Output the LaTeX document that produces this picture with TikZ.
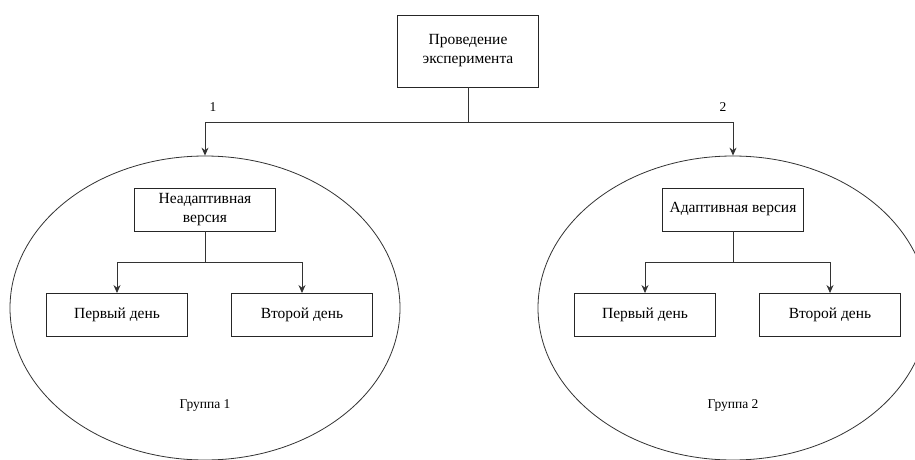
\documentclass[tikz,border=0pt]{standalone}
\usepackage{fontspec}
\setmainfont{Liberation Serif}
\usetikzlibrary{arrows.meta,shapes.geometric}
\begin{document}
\begin{tikzpicture}[x=1pt,y=1pt,
  box/.style={draw=black!85,line width=0.9pt,fill=white,minimum width=141pt,minimum height=43pt,align=center,font=\fontsize{15.5}{19}\selectfont,inner sep=2pt},
  grp/.style={draw=black!80,line width=0.8pt,ellipse,minimum width=390pt,minimum height=304pt,inner sep=0pt},
  link/.style={draw=black!80,line width=0.9pt},
  arrow/.style={link,-{Stealth[length=8pt,width=7pt]}},
  tag/.style={font=\fontsize{13.5}{16}\selectfont},
  gtag/.style={font=\fontsize{13.5}{16}\selectfont}]
\useasboundingbox (0,0) rectangle (915,-460);
\clip (0,0) rectangle (915,-460);
\fill[white] (0,0) rectangle (915,-460);

% the two groups
\node[grp] (g1) at (205,-308) {};
\node[grp] (g2) at (733,-308) {};

% root
\node[box,minimum height=72pt] (exp) at (468,-51) {Проведение\\эксперимента};

% branch from the root to both groups
\coordinate (fork) at (468,-122);
\draw[link] (exp.south) -- (fork);
\draw[arrow] (fork) -| (g1.north);
\draw[arrow] (fork) -| (g2.north);
\node[tag] (n1) at (213,-107) {1};
\node[tag] (n2) at (723,-107) {2};

% group 1
\node[box] (na) at (205,-209.5) {Неадаптивная\\версия};
\node[box] (d11) at (117,-315) {Первый день};
\node[box] (d12) at (302,-315) {Второй день};
\coordinate (f1) at (205,-262);
\draw[link] (na.south) -- (f1);
\draw[arrow] (f1) -| (d11.north);
\draw[arrow] (f1) -| (d12.north);
\node[gtag] (t1) at (205,-405) {Группа 1};

% group 2
\node[box] (ad) at (733,-209.5) {Адаптивная версия};
\node[box] (d21) at (645,-315) {Первый день};
\node[box] (d22) at (830,-315) {Второй день};
\coordinate (f2) at (733,-262);
\draw[link] (ad.south) -- (f2);
\draw[arrow] (f2) -| (d21.north);
\draw[arrow] (f2) -| (d22.north);
\node[gtag] (t2) at (733,-405) {Группа 2};
\end{tikzpicture}
\end{document}
